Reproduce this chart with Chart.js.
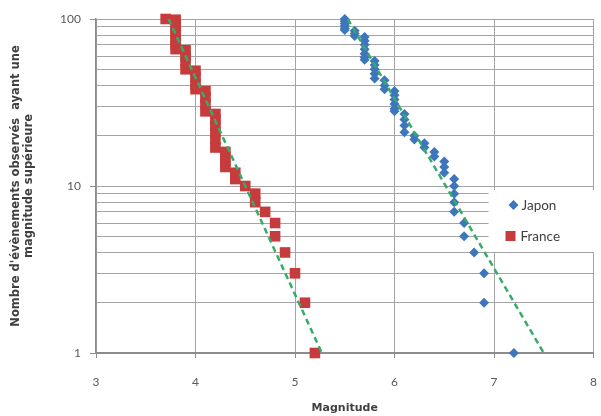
<!DOCTYPE html>
<html>
<head>
<meta charset="utf-8">
<script src="https://cdn.jsdelivr.net/npm/chart.js@4"></script>
<style>
html,body{margin:0;padding:0;background:#fff;}
#wrap{position:relative;width:601px;height:416px;}
</style>
</head>
<body>
<div id="wrap"><canvas id="c" width="601" height="416"></canvas></div>
<script>
// Magnitude (x) and cumulative number of events (y)
const franceMagnitude = [3.7,
  3.8,3.8,3.8,3.8,3.8,3.8,3.8,
  3.9,3.9,3.9,3.9,
  4.0,4.0,4.0,4.0,
  4.1,4.1,4.1,4.1,
  4.2,4.2,4.2,4.2,4.2,4.2,
  4.3,4.3,4.3,4.3,
  4.4,4.4,
  4.5,
  4.6,4.6,
  4.7,
  4.8,4.8,
  4.9,
  5.0,
  5.1,
  5.2];
const franceCount = [100,
  99,93,87,81,75,70,66,
  65,60,55,50,
  49,45,41,38,
  37,34,31,28,
  27,25,23,21,19,17,
  16,15,14,13,
  12,11,
  10,
  9,8,
  7,
  6,5,
  4,
  3,
  2,
  1];

const japonMagnitude = [
  5.5,5.5,5.5,5.5,5.5,5.5,
  5.6,5.6,5.6,
  5.7,5.7,5.7,5.7,5.7,5.7,5.7,
  5.8,5.8,5.8,5.8,5.8,
  5.9,5.9,5.9,
  6.0,6.0,6.0,6.0,6.0,6.0,
  6.1,6.1,6.1,6.1,
  6.2,6.2,
  6.3,6.3,
  6.4,6.4,
  6.5,6.5,6.5,
  6.6,6.6,6.6,6.6,6.6,
  6.7,6.7,
  6.8,
  6.9,6.9,
  7.2];
const japonCount = [
  100,97,94,91,88,86,
  85,82,79,
  78,74,70,66,62,59,57,
  56,53,50,47,44,
  43,40,38,
  37,35,33,31,29,28,
  27,25,23,21,
  20,19,
  18,17,
  16,15,
  14,13,12,
  11,10,9,8,7,
  6,5,
  4,
  3,2,
  1];

// Dashed trend lines (end points)
const franceTrendMagnitude = [3.73, 5.27];
const franceTrendCount = [100, 1];
const japonTrendMagnitude = [5.53, 7.50];
const japonTrendCount = [100, 1];

// Axis ticks
const xTicks = [3, 4, 5, 6, 7, 8];
const yGridValues = [1,2,3,4,5,6,7,8,9,10,20,30,40,50,60,70,80,90,100];
const yLabelValues = [1, 10, 100];

const seriesNames = ['Japon', 'France'];

const pts = (xs, ys) => xs.map((x, i) => ({x: x, y: ys[i]}));

const COL_JP = '#3d76bd';
const COL_FR = '#c63c3c';
const COL_TREND = '#35ad68';
const FONT = 'Lato, "Open Sans", "Liberation Sans", sans-serif';
const TITLE_FONT = '"DejaVu Sans", Verdana, sans-serif';

const legendPlugin = {
  id: 'boxLegend',
  afterDatasetsDraw(chart) {
    const c = chart.ctx;
    const a = chart.chartArea;
    const left = a.right - 105;
    const top = a.top + 171;
    c.save();
    c.fillStyle = '#ffffff';
    c.fillRect(left, top, 110, 62);
    c.font = '13.5px ' + FONT;
    c.textBaseline = 'middle';
    const y1 = top + 15, y2 = top + 46;
    c.beginPath();
    c.moveTo(left + 20, y1); c.lineTo(left + 25, y1 - 5); c.lineTo(left + 30, y1); c.lineTo(left + 25, y1 + 5); c.closePath();
    c.fillStyle = COL_JP; c.fill();
    c.fillStyle = '#404040';
    c.fillText(seriesNames[0], left + 33, y1 + 1);
    c.fillStyle = COL_FR;
    c.fillRect(left + 17, y2 - 5, 10, 10);
    c.fillStyle = '#404040';
    c.fillText(seriesNames[1], left + 32, y2 + 1);
    c.restore();
  }
};

new Chart(document.getElementById('c'), {
  type: 'scatter',
  data: {
    datasets: [
      {
        label: 'trendFrance',
        data: pts(franceTrendMagnitude, franceTrendCount),
        showLine: true,
        borderColor: COL_TREND,
        borderWidth: 2.5,
        borderDash: [6, 4],
        pointRadius: 0,
        fill: false
      },
      {
        label: 'trendJapon',
        data: pts(japonTrendMagnitude, japonTrendCount),
        showLine: true,
        borderColor: COL_TREND,
        borderWidth: 2.5,
        borderDash: [6, 4],
        pointRadius: 0,
        fill: false
      },
      {
        label: seriesNames[0],
        data: pts(japonMagnitude, japonCount),
        pointStyle: 'rectRot',
        pointRadius: 5,
        backgroundColor: COL_JP,
        borderColor: COL_JP,
        borderWidth: 0,
        clip: false
      },
      {
        label: seriesNames[1],
        data: pts(franceMagnitude, franceCount),
        pointStyle: 'rect',
        pointRadius: 7.5,
        backgroundColor: COL_FR,
        borderColor: COL_FR,
        borderWidth: 0,
        clip: false
      }
    ]
  },
  options: {
    responsive: false,
    animation: false,
    devicePixelRatio: 1,
    layout: { padding: { left: 0, right: 3, top: 19, bottom: 0 } },
    plugins: { legend: { display: false }, tooltip: { enabled: false } },
    scales: {
      x: {
        type: 'linear',
        min: 3, max: 8,
        afterBuildTicks(s) { s.ticks = xTicks.map(v => ({ value: v })); },
        ticks: { color: '#595959', font: { family: FONT, size: 12 }, padding: 17, autoSkip: false, maxRotation: 0 },
        grid: { color: '#a4a4a4', lineWidth: 1, tickLength: 5, tickColor: '#8c8c8c' },
        border: { color: '#8c8c8c', width: 2 },
        title: { display: true, text: 'Magnitude', color: '#404040', font: { family: TITLE_FONT, size: 11, weight: 'bold' }, padding: { top: 4, bottom: 1 } },
        afterFit(s) { s.height = 63; s.paddingLeft = 0; s.paddingRight = 0; }
      },
      y: {
        type: 'logarithmic',
        min: 1, max: 100,
        afterBuildTicks(s) { s.ticks = yGridValues.map(v => ({ value: v })); },
        ticks: {
          color: '#595959', font: { family: FONT, size: 12 }, padding: 9, autoSkip: false,
          callback: (v) => yLabelValues.includes(v) ? String(v) : ''
        },
        grid: {
          color: '#a4a4a4', lineWidth: 1, tickLength: 6,
          tickColor: (ctx) => (ctx.tick && yLabelValues.includes(ctx.tick.value)) ? '#8c8c8c' : 'rgba(0,0,0,0)'
        },
        border: { color: '#8c8c8c', width: 1.5 },
        title: {
          display: true,
          text: ["Nombre d'évènements observés  ayant une", 'magnitude supérieure'],
          color: '#404040',
          font: { family: TITLE_FONT, size: 11.5, weight: 'bold', lineHeight: 1.15 },
          padding: { top: 9.5, bottom: 0 }
        },
        afterFit(s) { s.width = 96; s.paddingTop = 0; s.paddingBottom = 0; }
      }
    }
  },
  plugins: [legendPlugin]
});
</script>
</body>
</html>
